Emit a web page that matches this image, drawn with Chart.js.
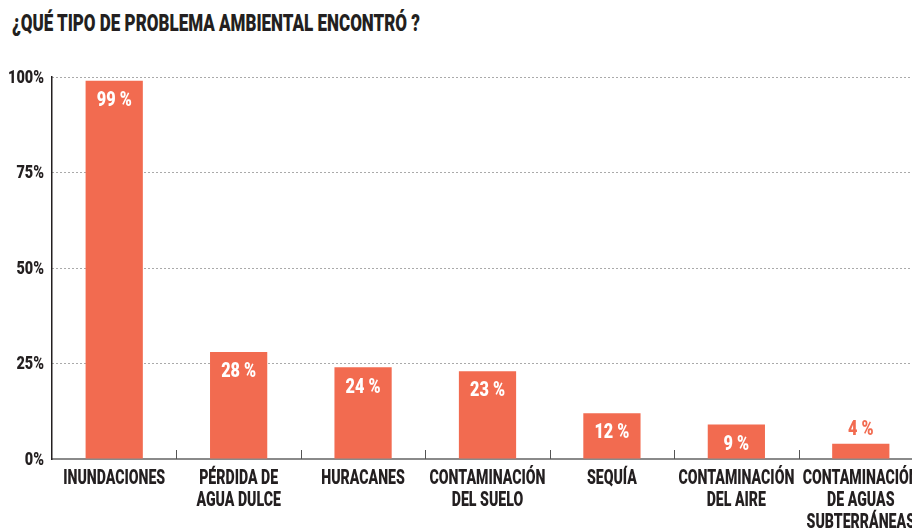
<!DOCTYPE html>
<html>
<head>
<meta charset="utf-8">
<script src="https://cdn.jsdelivr.net/npm/chart.js@4/dist/chart.umd.min.js"></script>
<style>
  html, body { margin: 0; padding: 0; background: #fff; overflow: hidden; width: 912px; height: 532px; }
  #title {
    position: absolute; left: 12px; top: 11px;
    font-family: Roboto, "DejaVu Sans Condensed", sans-serif;
    font-weight: 900; font-size: 24px; line-height: 24px; color: #231f20;
    white-space: nowrap; transform-origin: left top;
  }
  #wrap { position: absolute; left: 0; top: 0; width: 925px; height: 532px; }
</style>
</head>
<body>
<div id="title">¿QUÉ TIPO DE PROBLEMA AMBIENTAL ENCONTRÓ ?</div>
<div id="wrap"><canvas id="chart" width="925" height="532"></canvas></div>
<script>
// data
const categories = [
    ["INUNDACIONES"],
    ["PÉRDIDA DE", "AGUA DULCE"],
    ["HURACANES"],
    ["CONTAMINACIÓN", "DEL SUELO"],
    ["SEQUÍA"],
    ["CONTAMINACIÓN", "DEL AIRE"],
    ["CONTAMINACIÓN", "DE AGUAS", "SUBTERRÁNEAS"]
];
const values = [99, 28, 24, 23, 12, 9, 4];
const yTicks = [0, 25, 50, 75, 100];

const fontFamily = 'Roboto, "DejaVu Sans Condensed", sans-serif';
const barColor = "#f26b50";
const textColor = "#231f20";

// the original uses a very condensed face: squeeze text horizontally
const title = document.getElementById("title");
title.style.transform = "scaleX(" + (408 / title.getBoundingClientRect().width) + ")";

function squeeze(ctx, font, sample, width) {
    ctx.font = font;
    return width / ctx.measureText(sample).width;
}

function drawText(ctx, text, x, y, sx, align) {
    ctx.save();
    ctx.translate(x, y);
    ctx.scale(sx, 1);
    ctx.textAlign = align;
    ctx.fillText(text, 0, 0);
    ctx.restore();
}

// axis labels and value labels
const textPlugin = {
    id: "textPlugin",
    afterDraw(chart) {
        const ctx = chart.ctx;
        const xs = chart.scales.x;
        const ys = chart.scales.y;
        const area = chart.chartArea;
        ctx.save();
        ctx.textBaseline = "middle";
        ctx.fillStyle = textColor;

        // y tick labels
        const yFont = "900 18px " + fontFamily;
        const ySx = squeeze(ctx, yFont, "100%", 36);
        ctx.font = yFont;
        yTicks.forEach(v => {
            drawText(ctx, v + "%", area.left - 8, ys.getPixelForValue(v) + 1, ySx, "right");
        });

        // x category labels
        const xFont = "900 20px " + fontFamily;
        const xSx = squeeze(ctx, xFont, "INUNDACIONES", 102);
        ctx.font = xFont;
        categories.forEach((lines, i) => {
            const px = xs.getPixelForValue(i);
            lines.forEach((line, j) => {
                drawText(ctx, line, px, area.bottom + 20 + j * 22, xSx, "center");
            });
        });

        // small upward tick marks between categories
        ctx.strokeStyle = "#555";
        ctx.lineWidth = 1;
        for (let i = 1; i < categories.length; i++) {
            const px = Math.round((xs.getPixelForValue(i - 1) + xs.getPixelForValue(i)) / 2) + 0.5;
            ctx.beginPath();
            ctx.moveTo(px, area.bottom);
            ctx.lineTo(px, area.bottom - 9);
            ctx.stroke();
        }

        // value labels
        const vFont = "900 21px " + fontFamily;
        const vSx = squeeze(ctx, vFont, "99 %", 35);
        ctx.font = vFont;
        chart.getDatasetMeta(0).data.forEach((bar, i) => {
            const v = values[i];
            if (v < 6) {
                ctx.fillStyle = barColor;
                drawText(ctx, v + " %", bar.x, bar.y - 14, vSx, "center");
            } else {
                ctx.fillStyle = "#ffffff";
                drawText(ctx, v + " %", bar.x, bar.y + 20, vSx, "center");
            }
        });
        ctx.restore();
    }
};

new Chart(document.getElementById("chart"), {
    type: "bar",
    data: {
        labels: categories.map(c => c.join(" ")),
        datasets: [{
            data: values,
            backgroundColor: barColor,
            barPercentage: 0.46,
            categoryPercentage: 1
        }]
    },
    plugins: [textPlugin],
    options: {
        responsive: false,
        animation: false,
        layout: { padding: { top: 77, right: 2, left: 0, bottom: 0 } },
        plugins: {
            legend: { display: false },
            tooltip: { enabled: false }
        },
        scales: {
            x: {
                afterFit: s => { s.height = 73; s.paddingLeft = 0; s.paddingRight = 0; },
                grid: { display: false, drawTicks: false },
                border: { display: true, color: "#8a8a8a", width: 2 },
                ticks: { display: false }
            },
            y: {
                min: 0,
                max: 100,
                afterFit: s => { s.width = 52; s.paddingTop = 0; s.paddingBottom = 0; },
                afterBuildTicks: s => { s.ticks = yTicks.map(v => ({ value: v })); },
                grid: { color: "#555", lineWidth: 1, drawTicks: false },
                border: { display: true, color: textColor, width: 1.5, dash: [1, 3] },
                ticks: { display: false }
            }
        }
    }
});
</script>
</body>
</html>
